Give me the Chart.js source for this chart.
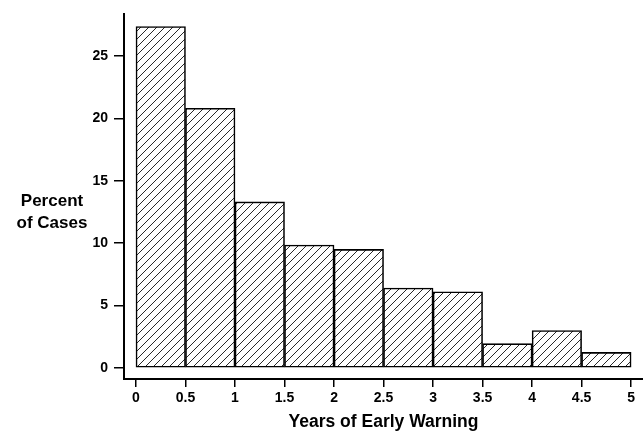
<!DOCTYPE html>
<html>
<head>
<meta charset="utf-8">
<script src="https://cdn.jsdelivr.net/npm/chart.js@4.4.1/dist/chart.umd.min.js"></script>
<style>
  html, body { margin: 0; padding: 0; background: #fff; }
  #wrap { width: 643px; height: 433px; }
</style>
</head>
<body>
<div id="wrap"><canvas id="histChart"></canvas></div>
<script>
// bin edges in years, percent of cases per bin
const binEdges = [0, 0.5, 1, 1.5, 2, 2.5, 3, 3.5, 4, 4.5, 5];
const percentOfCases = [27.35, 20.8, 13.3, 9.85, 9.5, 6.4, 6.1, 1.95, 3.0, 1.25];
const xTickValues = [0, 0.5, 1, 1.5, 2, 2.5, 3, 3.5, 4, 4.5, 5];
const yTickValues = [0, 5, 10, 15, 20, 25];

document.addEventListener('DOMContentLoaded', function() {
    const fontFamily = "'Liberation Sans', Arial, Helvetica, sans-serif";

    // diagonal hatch fill
    function makeHatch() {
        const s = 8;
        const c = document.createElement('canvas');
        c.width = s; c.height = s;
        const g = c.getContext('2d');
        g.fillStyle = '#fff';
        g.fillRect(0, 0, s, s);
        g.strokeStyle = '#111';
        g.lineWidth = 0.9;
        g.beginPath();
        g.moveTo(-1, s + 1); g.lineTo(s + 1, -1);
        g.moveTo(-1, 1); g.lineTo(1, -1);
        g.moveTo(s - 1, s + 1); g.lineTo(s + 1, s - 1);
        g.stroke();
        return g.createPattern(c, 'repeat');
    }

    const points = percentOfCases.map((p, i) => ({
        x: (binEdges[i] + binEdges[i + 1]) / 2,
        y: p
    }));

    const yTitle = {
        id: 'yTitle',
        afterDraw(chart) {
            const ctx = chart.ctx;
            const cx = chart.chartArea.left - 72;
            ctx.save();
            ctx.fillStyle = '#000';
            ctx.font = 'bold 17px ' + fontFamily;
            ctx.textAlign = 'center';
            ctx.textBaseline = 'middle';
            ctx.fillText('Percent', cx, 201);
            ctx.fillText('of Cases', cx, 223);
            ctx.restore();
        }
    };

    const ctx = document.getElementById('histChart').getContext('2d');
    new Chart(ctx, {
        type: 'bar',
        data: {
            datasets: [{
                data: points,
                backgroundColor: makeHatch(),
                borderColor: '#000',
                borderWidth: 1.6,
                borderSkipped: false,
                barPercentage: 1,
                categoryPercentage: 1
            }]
        },
        options: {
            responsive: true,
            maintainAspectRatio: false,
            animation: false,
            layout: { padding: { top: 14, right: 0, left: 0, bottom: 0 } },
            plugins: {
                legend: { display: false },
                tooltip: { enabled: false }
            },
            scales: {
                x: {
                    type: 'linear',
                    offset: false,
                    min: -0.121,
                    max: 5.12,
                    afterBuildTicks: scale => { scale.ticks = xTickValues.map(v => ({ value: v })); },
                    afterFit: scale => { scale.height = 54; },
                    grid: { offset: false, drawOnChartArea: false, drawTicks: true, tickLength: 8, color: '#000', lineWidth: 1.5 },
                    border: { display: true, color: '#000', width: 2 },
                    ticks: {
                        color: '#000',
                        padding: 3,
                        maxRotation: 0,
                        autoSkip: false,
                        font: { family: fontFamily, size: 14, weight: 'bold' },
                        callback: v => String(v)
                    },
                    title: {
                        display: true,
                        text: 'Years of Early Warning',
                        color: '#000',
                        padding: { top: 0, bottom: 0 },
                        font: { family: fontFamily, size: 17.5, weight: 'bold' }
                    }
                },
                y: {
                    min: -0.88,
                    max: 28.32,
                    afterBuildTicks: scale => { scale.ticks = yTickValues.map(v => ({ value: v })); },
                    afterFit: scale => { scale.width = 124; },
                    grid: { drawOnChartArea: false, drawTicks: true, tickLength: 10, color: '#000', lineWidth: 1.5 },
                    border: { display: true, color: '#000', width: 2 },
                    ticks: {
                        color: '#000',
                        padding: 6,
                        autoSkip: false,
                        font: { family: fontFamily, size: 14, weight: 'bold' },
                        callback: v => String(v)
                    }
                }
            }
        },
        plugins: [yTitle]
    });
});
</script>
</body>
</html>
